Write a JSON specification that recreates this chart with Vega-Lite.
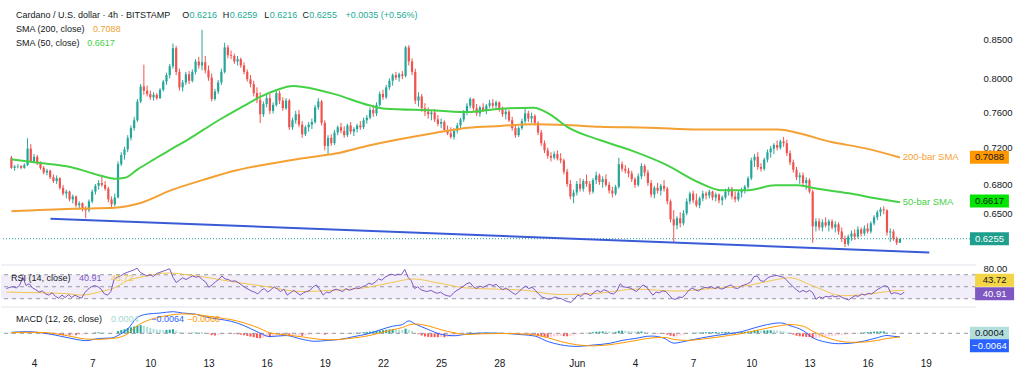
{
"$schema":"https://vega.github.io/schema/vega-lite/v6.json",
"padding":0,
"background":"white",
"spacing":1,
"config":{"view":{"stroke":null},"font":"Liberation Sans","axis":{"grid":false,"domain":false,"ticks":false,"labelFont":"Liberation Sans","labelFontSize":9.5,"labelColor":"#131722"}},
"resolve":{"scale":{"x":"independent","y":"independent"}},
"datasets":{
"k":[
{"i":0,"o":0.7085,"h":0.7105,"l":0.6965,"c":0.6975,"m":0.0005,"r":47},
{"i":1,"o":0.6975,"h":0.7005,"l":0.6945,"c":0.6990,"m":0.0004,"r":49},
{"i":2,"o":0.6990,"h":0.7015,"l":0.6970,"c":0.6995,"m":0.0003,"r":50},
{"i":3,"o":0.6995,"h":0.7005,"l":0.6960,"c":0.6975,"m":0.0002,"r":48},
{"i":4,"o":0.6975,"h":0.7025,"l":0.6965,"c":0.7005,"m":0.0002,"r":52},
{"i":5,"o":0.7005,"h":0.7300,"l":0.6995,"c":0.7185,"m":0.0012,"r":66},
{"i":6,"o":0.7185,"h":0.7235,"l":0.7035,"c":0.7045,"m":0.0008,"r":52},
{"i":7,"o":0.7045,"h":0.7125,"l":0.7025,"c":0.7095,"m":0.0005,"r":55},
{"i":8,"o":0.7095,"h":0.7115,"l":0.7005,"c":0.7025,"m":0.0002,"r":48},
{"i":9,"o":0.7025,"h":0.7045,"l":0.6955,"c":0.6975,"m":-0.0005,"r":45},
{"i":10,"o":0.6975,"h":0.6995,"l":0.6905,"c":0.6925,"m":-0.0012,"r":41},
{"i":11,"o":0.6925,"h":0.6965,"l":0.6895,"c":0.6945,"m":-0.0015,"r":43},
{"i":12,"o":0.6945,"h":0.6955,"l":0.6855,"c":0.6875,"m":-0.0020,"r":38},
{"i":13,"o":0.6875,"h":0.6905,"l":0.6815,"c":0.6835,"m":-0.0025,"r":36},
{"i":14,"o":0.6835,"h":0.6895,"l":0.6805,"c":0.6865,"m":-0.0024,"r":40},
{"i":15,"o":0.6865,"h":0.6875,"l":0.6745,"c":0.6765,"m":-0.0030,"r":34},
{"i":16,"o":0.6765,"h":0.6795,"l":0.6685,"c":0.6705,"m":-0.0036,"r":31},
{"i":17,"o":0.6705,"h":0.6745,"l":0.6655,"c":0.6725,"m":-0.0034,"r":36},
{"i":18,"o":0.6725,"h":0.6735,"l":0.6625,"c":0.6645,"m":-0.0036,"r":32},
{"i":19,"o":0.6645,"h":0.6695,"l":0.6605,"c":0.6675,"m":-0.0030,"r":37},
{"i":20,"o":0.6675,"h":0.6685,"l":0.6565,"c":0.6585,"m":-0.0034,"r":32},
{"i":21,"o":0.6585,"h":0.6625,"l":0.6545,"c":0.6605,"m":-0.0028,"r":36},
{"i":22,"o":0.6605,"h":0.6615,"l":0.6525,"c":0.6555,"m":-0.0025,"r":33},
{"i":23,"o":0.6555,"h":0.6575,"l":0.6455,"c":0.6535,"m":-0.0020,"r":31},
{"i":24,"o":0.6535,"h":0.6645,"l":0.6515,"c":0.6625,"m":-0.0008,"r":40},
{"i":25,"o":0.6625,"h":0.6745,"l":0.6605,"c":0.6725,"m":0.0005,"r":46},
{"i":26,"o":0.6725,"h":0.6805,"l":0.6695,"c":0.6785,"m":0.0015,"r":50},
{"i":27,"o":0.6785,"h":0.6845,"l":0.6745,"c":0.6815,"m":0.0020,"r":52},
{"i":28,"o":0.6815,"h":0.6885,"l":0.6775,"c":0.6795,"m":0.0016,"r":50},
{"i":29,"o":0.6795,"h":0.6835,"l":0.6735,"c":0.6755,"m":0.0012,"r":46},
{"i":30,"o":0.6755,"h":0.6775,"l":0.6615,"c":0.6645,"m":0.0002,"r":38},
{"i":31,"o":0.6645,"h":0.6675,"l":0.6555,"c":0.6595,"m":-0.0004,"r":36},
{"i":32,"o":0.6595,"h":0.6705,"l":0.6575,"c":0.6665,"m":0.0002,"r":42},
{"i":33,"o":0.6665,"h":0.7045,"l":0.6655,"c":0.7015,"m":0.0040,"r":63},
{"i":34,"o":0.7015,"h":0.7145,"l":0.6995,"c":0.7115,"m":0.0060,"r":66},
{"i":35,"o":0.7115,"h":0.7205,"l":0.7065,"c":0.7175,"m":0.0075,"r":68},
{"i":36,"o":0.7175,"h":0.7335,"l":0.7145,"c":0.7305,"m":0.0095,"r":72},
{"i":37,"o":0.7305,"h":0.7445,"l":0.7275,"c":0.7415,"m":0.0110,"r":74},
{"i":38,"o":0.7415,"h":0.7545,"l":0.7385,"c":0.7505,"m":0.0125,"r":76},
{"i":39,"o":0.7505,"h":0.7755,"l":0.7485,"c":0.7725,"m":0.0140,"r":78},
{"i":40,"o":0.7725,"h":0.7935,"l":0.7705,"c":0.7905,"m":0.0150,"r":81},
{"i":41,"o":0.7905,"h":0.8175,"l":0.7805,"c":0.7855,"m":0.0140,"r":74},
{"i":42,"o":0.7855,"h":0.7915,"l":0.7785,"c":0.7815,"m":0.0120,"r":71},
{"i":43,"o":0.7815,"h":0.7855,"l":0.7745,"c":0.7775,"m":0.0100,"r":68},
{"i":44,"o":0.7775,"h":0.7835,"l":0.7735,"c":0.7805,"m":0.0085,"r":70},
{"i":45,"o":0.7805,"h":0.7825,"l":0.7745,"c":0.7765,"m":0.0070,"r":67},
{"i":46,"o":0.7765,"h":0.7885,"l":0.7755,"c":0.7865,"m":0.0065,"r":72},
{"i":47,"o":0.7865,"h":0.7985,"l":0.7845,"c":0.7965,"m":0.0060,"r":74},
{"i":48,"o":0.7965,"h":0.8075,"l":0.7925,"c":0.8045,"m":0.0062,"r":76},
{"i":49,"o":0.8045,"h":0.8185,"l":0.8005,"c":0.8155,"m":0.0066,"r":78},
{"i":50,"o":0.8155,"h":0.8445,"l":0.8125,"c":0.8385,"m":0.0075,"r":80},
{"i":51,"o":0.8385,"h":0.8415,"l":0.8045,"c":0.8085,"m":0.0050,"r":66},
{"i":52,"o":0.8085,"h":0.8125,"l":0.7855,"c":0.7895,"m":0.0025,"r":57},
{"i":53,"o":0.7895,"h":0.7985,"l":0.7845,"c":0.7955,"m":0.0015,"r":61},
{"i":54,"o":0.7955,"h":0.8085,"l":0.7925,"c":0.8055,"m":0.0012,"r":65},
{"i":55,"o":0.8055,"h":0.8095,"l":0.7935,"c":0.7975,"m":0.0008,"r":62},
{"i":56,"o":0.7975,"h":0.8115,"l":0.7955,"c":0.8085,"m":0.0010,"r":65},
{"i":57,"o":0.8085,"h":0.8245,"l":0.8055,"c":0.8215,"m":0.0015,"r":68},
{"i":58,"o":0.8215,"h":0.8275,"l":0.8125,"c":0.8165,"m":0.0012,"r":66},
{"i":59,"o":0.8165,"h":0.8625,"l":0.8105,"c":0.8205,"m":0.0012,"r":67},
{"i":60,"o":0.8205,"h":0.8285,"l":0.8065,"c":0.8105,"m":0.0002,"r":62},
{"i":61,"o":0.8105,"h":0.8165,"l":0.7975,"c":0.8015,"m":-0.0012,"r":58},
{"i":62,"o":0.8015,"h":0.8065,"l":0.7725,"c":0.7755,"m":-0.0035,"r":49},
{"i":63,"o":0.7755,"h":0.7875,"l":0.7735,"c":0.7845,"m":-0.0040,"r":53},
{"i":64,"o":0.7845,"h":0.7985,"l":0.7815,"c":0.7955,"m":-0.0032,"r":58},
{"i":65,"o":0.7955,"h":0.8125,"l":0.7925,"c":0.8085,"m":-0.0020,"r":62},
{"i":66,"o":0.8085,"h":0.8455,"l":0.8065,"c":0.8395,"m":0.0005,"r":68},
{"i":67,"o":0.8395,"h":0.8425,"l":0.8255,"c":0.8295,"m":-0.0002,"r":63},
{"i":68,"o":0.8295,"h":0.8355,"l":0.8245,"c":0.8285,"m":-0.0008,"r":62},
{"i":69,"o":0.8285,"h":0.8315,"l":0.8185,"c":0.8215,"m":-0.0015,"r":59},
{"i":70,"o":0.8215,"h":0.8285,"l":0.8165,"c":0.8245,"m":-0.0018,"r":60},
{"i":71,"o":0.8245,"h":0.8265,"l":0.8135,"c":0.8165,"m":-0.0025,"r":57},
{"i":72,"o":0.8165,"h":0.8205,"l":0.8055,"c":0.8085,"m":-0.0035,"r":53},
{"i":73,"o":0.8085,"h":0.8115,"l":0.7965,"c":0.7995,"m":-0.0048,"r":49},
{"i":74,"o":0.7995,"h":0.8045,"l":0.7895,"c":0.7935,"m":-0.0060,"r":46},
{"i":75,"o":0.7935,"h":0.7975,"l":0.7785,"c":0.7825,"m":-0.0072,"r":43},
{"i":76,"o":0.7825,"h":0.7895,"l":0.7705,"c":0.7745,"m":-0.0085,"r":41},
{"i":77,"o":0.7745,"h":0.7835,"l":0.7475,"c":0.7575,"m":-0.0090,"r":38},
{"i":78,"o":0.7575,"h":0.7725,"l":0.7545,"c":0.7695,"m":-0.0080,"r":44},
{"i":79,"o":0.7695,"h":0.7805,"l":0.7655,"c":0.7765,"m":-0.0070,"r":47},
{"i":80,"o":0.7765,"h":0.7815,"l":0.7575,"c":0.7615,"m":-0.0072,"r":41},
{"i":81,"o":0.7615,"h":0.7715,"l":0.7585,"c":0.7685,"m":-0.0060,"r":45},
{"i":82,"o":0.7685,"h":0.7865,"l":0.7665,"c":0.7825,"m":-0.0045,"r":50},
{"i":83,"o":0.7825,"h":0.7855,"l":0.7695,"c":0.7735,"m":-0.0040,"r":46},
{"i":84,"o":0.7735,"h":0.7775,"l":0.7615,"c":0.7645,"m":-0.0042,"r":42},
{"i":85,"o":0.7645,"h":0.7765,"l":0.7625,"c":0.7735,"m":-0.0036,"r":46},
{"i":86,"o":0.7735,"h":0.7755,"l":0.7395,"c":0.7425,"m":-0.0050,"r":36},
{"i":87,"o":0.7425,"h":0.7535,"l":0.7395,"c":0.7505,"m":-0.0048,"r":40},
{"i":88,"o":0.7505,"h":0.7615,"l":0.7465,"c":0.7575,"m":-0.0040,"r":44},
{"i":89,"o":0.7575,"h":0.7625,"l":0.7425,"c":0.7455,"m":-0.0040,"r":40},
{"i":90,"o":0.7455,"h":0.7495,"l":0.7305,"c":0.7345,"m":-0.0045,"r":36},
{"i":91,"o":0.7345,"h":0.7445,"l":0.7325,"c":0.7425,"m":-0.0038,"r":40},
{"i":92,"o":0.7425,"h":0.7485,"l":0.7375,"c":0.7455,"m":-0.0030,"r":42},
{"i":93,"o":0.7455,"h":0.7525,"l":0.7405,"c":0.7485,"m":-0.0022,"r":44},
{"i":94,"o":0.7485,"h":0.7685,"l":0.7465,"c":0.7655,"m":-0.0008,"r":50},
{"i":95,"o":0.7655,"h":0.7765,"l":0.7625,"c":0.7725,"m":0.0005,"r":53},
{"i":96,"o":0.7725,"h":0.7745,"l":0.7445,"c":0.7475,"m":-0.0005,"r":45},
{"i":97,"o":0.7475,"h":0.7505,"l":0.7165,"c":0.7215,"m":-0.0025,"r":36},
{"i":98,"o":0.7215,"h":0.7335,"l":0.7125,"c":0.7305,"m":-0.0020,"r":41},
{"i":99,"o":0.7305,"h":0.7345,"l":0.7215,"c":0.7245,"m":-0.0018,"r":40},
{"i":100,"o":0.7245,"h":0.7395,"l":0.7225,"c":0.7365,"m":-0.0008,"r":44},
{"i":101,"o":0.7365,"h":0.7445,"l":0.7335,"c":0.7425,"m":-0.0002,"r":46},
{"i":102,"o":0.7425,"h":0.7475,"l":0.7355,"c":0.7385,"m":0.0000,"r":44},
{"i":103,"o":0.7385,"h":0.7435,"l":0.7305,"c":0.7335,"m":-0.0004,"r":42},
{"i":104,"o":0.7335,"h":0.7465,"l":0.7315,"c":0.7445,"m":0.0004,"r":47},
{"i":105,"o":0.7445,"h":0.7485,"l":0.7345,"c":0.7375,"m":0.0004,"r":44},
{"i":106,"o":0.7375,"h":0.7425,"l":0.7325,"c":0.7405,"m":0.0008,"r":46},
{"i":107,"o":0.7405,"h":0.7465,"l":0.7365,"c":0.7445,"m":0.0012,"r":48},
{"i":108,"o":0.7445,"h":0.7495,"l":0.7395,"c":0.7425,"m":0.0014,"r":47},
{"i":109,"o":0.7425,"h":0.7535,"l":0.7405,"c":0.7505,"m":0.0020,"r":50},
{"i":110,"o":0.7505,"h":0.7565,"l":0.7465,"c":0.7535,"m":0.0025,"r":52},
{"i":111,"o":0.7535,"h":0.7655,"l":0.7515,"c":0.7625,"m":0.0032,"r":56},
{"i":112,"o":0.7625,"h":0.7685,"l":0.7545,"c":0.7585,"m":0.0035,"r":54},
{"i":113,"o":0.7585,"h":0.7715,"l":0.7555,"c":0.7685,"m":0.0042,"r":58},
{"i":114,"o":0.7685,"h":0.7845,"l":0.7665,"c":0.7815,"m":0.0055,"r":63},
{"i":115,"o":0.7815,"h":0.7865,"l":0.7745,"c":0.7775,"m":0.0058,"r":61},
{"i":116,"o":0.7775,"h":0.7925,"l":0.7755,"c":0.7895,"m":0.0065,"r":66},
{"i":117,"o":0.7895,"h":0.8005,"l":0.7865,"c":0.7975,"m":0.0072,"r":69},
{"i":118,"o":0.7975,"h":0.8065,"l":0.7915,"c":0.8045,"m":0.0075,"r":71},
{"i":119,"o":0.8045,"h":0.8085,"l":0.7985,"c":0.8015,"m":0.0070,"r":69},
{"i":120,"o":0.8015,"h":0.8075,"l":0.7965,"c":0.8055,"m":0.0068,"r":71},
{"i":121,"o":0.8055,"h":0.8095,"l":0.7995,"c":0.8035,"m":0.0062,"r":70},
{"i":122,"o":0.8035,"h":0.8415,"l":0.8015,"c":0.8395,"m":0.0085,"r":79},
{"i":123,"o":0.8395,"h":0.8425,"l":0.8165,"c":0.8215,"m":0.0065,"r":66},
{"i":124,"o":0.8215,"h":0.8255,"l":0.8045,"c":0.8085,"m":0.0045,"r":60},
{"i":125,"o":0.8085,"h":0.8125,"l":0.7695,"c":0.7735,"m":0.0005,"r":47},
{"i":126,"o":0.7735,"h":0.7835,"l":0.7665,"c":0.7785,"m":-0.0018,"r":50},
{"i":127,"o":0.7785,"h":0.7815,"l":0.7605,"c":0.7645,"m":-0.0040,"r":45},
{"i":128,"o":0.7645,"h":0.7705,"l":0.7555,"c":0.7605,"m":-0.0058,"r":43},
{"i":129,"o":0.7605,"h":0.7655,"l":0.7525,"c":0.7575,"m":-0.0065,"r":42},
{"i":130,"o":0.7575,"h":0.7625,"l":0.7505,"c":0.7595,"m":-0.0068,"r":44},
{"i":131,"o":0.7595,"h":0.7635,"l":0.7485,"c":0.7515,"m":-0.0070,"r":41},
{"i":132,"o":0.7515,"h":0.7565,"l":0.7435,"c":0.7465,"m":-0.0072,"r":39},
{"i":133,"o":0.7465,"h":0.7525,"l":0.7415,"c":0.7485,"m":-0.0070,"r":41},
{"i":134,"o":0.7485,"h":0.7505,"l":0.7375,"c":0.7395,"m":-0.0072,"r":37},
{"i":135,"o":0.7395,"h":0.7445,"l":0.7335,"c":0.7355,"m":-0.0070,"r":35},
{"i":136,"o":0.7355,"h":0.7425,"l":0.7295,"c":0.7315,"m":-0.0062,"r":34},
{"i":137,"o":0.7315,"h":0.7415,"l":0.7285,"c":0.7385,"m":-0.0045,"r":40},
{"i":138,"o":0.7385,"h":0.7475,"l":0.7355,"c":0.7445,"m":-0.0028,"r":44},
{"i":139,"o":0.7445,"h":0.7535,"l":0.7415,"c":0.7515,"m":-0.0012,"r":47},
{"i":140,"o":0.7515,"h":0.7625,"l":0.7485,"c":0.7595,"m":0.0002,"r":51},
{"i":141,"o":0.7595,"h":0.7705,"l":0.7565,"c":0.7675,"m":0.0012,"r":55},
{"i":142,"o":0.7675,"h":0.7775,"l":0.7645,"c":0.7755,"m":0.0020,"r":57},
{"i":143,"o":0.7755,"h":0.7765,"l":0.7615,"c":0.7645,"m":0.0016,"r":50},
{"i":144,"o":0.7645,"h":0.7695,"l":0.7555,"c":0.7585,"m":0.0012,"r":47},
{"i":145,"o":0.7585,"h":0.7675,"l":0.7545,"c":0.7655,"m":0.0012,"r":51},
{"i":146,"o":0.7655,"h":0.7705,"l":0.7605,"c":0.7625,"m":0.0010,"r":49},
{"i":147,"o":0.7625,"h":0.7695,"l":0.7575,"c":0.7675,"m":0.0012,"r":52},
{"i":148,"o":0.7675,"h":0.7745,"l":0.7645,"c":0.7705,"m":0.0014,"r":54},
{"i":149,"o":0.7705,"h":0.7755,"l":0.7645,"c":0.7675,"m":0.0012,"r":52},
{"i":150,"o":0.7675,"h":0.7735,"l":0.7625,"c":0.7715,"m":0.0012,"r":54},
{"i":151,"o":0.7715,"h":0.7725,"l":0.7605,"c":0.7635,"m":0.0010,"r":49},
{"i":152,"o":0.7635,"h":0.7665,"l":0.7545,"c":0.7575,"m":0.0004,"r":45},
{"i":153,"o":0.7575,"h":0.7645,"l":0.7515,"c":0.7605,"m":0.0002,"r":48},
{"i":154,"o":0.7605,"h":0.7625,"l":0.7485,"c":0.7505,"m":-0.0004,"r":44},
{"i":155,"o":0.7505,"h":0.7545,"l":0.7385,"c":0.7415,"m":-0.0010,"r":40},
{"i":156,"o":0.7415,"h":0.7445,"l":0.7305,"c":0.7335,"m":-0.0018,"r":37},
{"i":157,"o":0.7335,"h":0.7435,"l":0.7315,"c":0.7415,"m":-0.0016,"r":42},
{"i":158,"o":0.7415,"h":0.7525,"l":0.7395,"c":0.7495,"m":-0.0010,"r":47},
{"i":159,"o":0.7495,"h":0.7645,"l":0.7465,"c":0.7585,"m":-0.0008,"r":51},
{"i":160,"o":0.7585,"h":0.7615,"l":0.7485,"c":0.7525,"m":-0.0012,"r":47},
{"i":161,"o":0.7525,"h":0.7595,"l":0.7475,"c":0.7555,"m":-0.0018,"r":49},
{"i":162,"o":0.7555,"h":0.7575,"l":0.7445,"c":0.7475,"m":-0.0025,"r":44},
{"i":163,"o":0.7475,"h":0.7495,"l":0.7335,"c":0.7365,"m":-0.0040,"r":38},
{"i":164,"o":0.7365,"h":0.7395,"l":0.7215,"c":0.7245,"m":-0.0055,"r":33},
{"i":165,"o":0.7245,"h":0.7275,"l":0.7135,"c":0.7165,"m":-0.0065,"r":31},
{"i":166,"o":0.7165,"h":0.7195,"l":0.7075,"c":0.7105,"m":-0.0070,"r":29},
{"i":167,"o":0.7105,"h":0.7145,"l":0.7045,"c":0.7085,"m":-0.0065,"r":30},
{"i":168,"o":0.7085,"h":0.7155,"l":0.7065,"c":0.7125,"m":-0.0058,"r":33},
{"i":169,"o":0.7125,"h":0.7165,"l":0.7055,"c":0.7075,"m":-0.0055,"r":31},
{"i":170,"o":0.7075,"h":0.7135,"l":0.7025,"c":0.7055,"m":-0.0050,"r":30},
{"i":171,"o":0.7055,"h":0.7075,"l":0.6905,"c":0.6935,"m":-0.0052,"r":27},
{"i":172,"o":0.6935,"h":0.6965,"l":0.6775,"c":0.6805,"m":-0.0055,"r":25},
{"i":173,"o":0.6805,"h":0.6845,"l":0.6645,"c":0.6675,"m":-0.0050,"r":24},
{"i":174,"o":0.6675,"h":0.6745,"l":0.6605,"c":0.6715,"m":-0.0038,"r":30},
{"i":175,"o":0.6715,"h":0.6835,"l":0.6685,"c":0.6805,"m":-0.0022,"r":36},
{"i":176,"o":0.6805,"h":0.6865,"l":0.6725,"c":0.6755,"m":-0.0012,"r":34},
{"i":177,"o":0.6755,"h":0.6855,"l":0.6725,"c":0.6835,"m":0.0000,"r":39},
{"i":178,"o":0.6835,"h":0.6905,"l":0.6775,"c":0.6805,"m":0.0008,"r":38},
{"i":179,"o":0.6805,"h":0.6835,"l":0.6695,"c":0.6725,"m":0.0012,"r":35},
{"i":180,"o":0.6725,"h":0.6865,"l":0.6705,"c":0.6845,"m":0.0020,"r":41},
{"i":181,"o":0.6845,"h":0.6935,"l":0.6805,"c":0.6895,"m":0.0030,"r":44},
{"i":182,"o":0.6895,"h":0.6915,"l":0.6795,"c":0.6825,"m":0.0032,"r":41},
{"i":183,"o":0.6825,"h":0.6885,"l":0.6765,"c":0.6855,"m":0.0035,"r":45},
{"i":184,"o":0.6855,"h":0.6905,"l":0.6775,"c":0.6795,"m":0.0034,"r":43},
{"i":185,"o":0.6795,"h":0.6825,"l":0.6705,"c":0.6735,"m":0.0030,"r":39},
{"i":186,"o":0.6735,"h":0.6775,"l":0.6665,"c":0.6705,"m":0.0025,"r":38},
{"i":187,"o":0.6705,"h":0.6795,"l":0.6685,"c":0.6775,"m":0.0025,"r":43},
{"i":188,"o":0.6775,"h":0.7085,"l":0.6755,"c":0.7015,"m":0.0045,"r":55},
{"i":189,"o":0.7015,"h":0.7045,"l":0.6935,"c":0.6965,"m":0.0048,"r":50},
{"i":190,"o":0.6965,"h":0.7005,"l":0.6915,"c":0.6945,"m":0.0045,"r":49},
{"i":191,"o":0.6945,"h":0.6975,"l":0.6875,"c":0.6915,"m":0.0040,"r":48},
{"i":192,"o":0.6915,"h":0.6945,"l":0.6825,"c":0.6855,"m":0.0035,"r":45},
{"i":193,"o":0.6855,"h":0.6875,"l":0.6765,"c":0.6795,"m":0.0030,"r":42},
{"i":194,"o":0.6795,"h":0.6915,"l":0.6775,"c":0.6885,"m":0.0030,"r":48},
{"i":195,"o":0.6885,"h":0.7025,"l":0.6855,"c":0.6995,"m":0.0034,"r":53},
{"i":196,"o":0.6995,"h":0.7015,"l":0.6885,"c":0.6925,"m":0.0030,"r":50},
{"i":197,"o":0.6925,"h":0.6955,"l":0.6785,"c":0.6815,"m":0.0020,"r":43},
{"i":198,"o":0.6815,"h":0.6845,"l":0.6665,"c":0.6695,"m":0.0005,"r":36},
{"i":199,"o":0.6695,"h":0.6785,"l":0.6655,"c":0.6765,"m":-0.0004,"r":41},
{"i":200,"o":0.6765,"h":0.6815,"l":0.6705,"c":0.6735,"m":-0.0008,"r":40},
{"i":201,"o":0.6735,"h":0.6805,"l":0.6685,"c":0.6785,"m":-0.0010,"r":43},
{"i":202,"o":0.6785,"h":0.6845,"l":0.6725,"c":0.6755,"m":-0.0012,"r":42},
{"i":203,"o":0.6755,"h":0.6775,"l":0.6595,"c":0.6625,"m":-0.0025,"r":36},
{"i":204,"o":0.6625,"h":0.6645,"l":0.6415,"c":0.6445,"m":-0.0045,"r":30},
{"i":205,"o":0.6445,"h":0.6535,"l":0.6215,"c":0.6385,"m":-0.0055,"r":29},
{"i":206,"o":0.6385,"h":0.6475,"l":0.6345,"c":0.6455,"m":-0.0050,"r":33},
{"i":207,"o":0.6455,"h":0.6515,"l":0.6365,"c":0.6405,"m":-0.0040,"r":32},
{"i":208,"o":0.6405,"h":0.6535,"l":0.6385,"c":0.6505,"m":-0.0030,"r":37},
{"i":209,"o":0.6505,"h":0.6655,"l":0.6485,"c":0.6625,"m":-0.0015,"r":44},
{"i":210,"o":0.6625,"h":0.6725,"l":0.6595,"c":0.6705,"m":0.0000,"r":48},
{"i":211,"o":0.6705,"h":0.6735,"l":0.6605,"c":0.6635,"m":0.0010,"r":45},
{"i":212,"o":0.6635,"h":0.6705,"l":0.6565,"c":0.6585,"m":0.0012,"r":43},
{"i":213,"o":0.6585,"h":0.6675,"l":0.6555,"c":0.6655,"m":0.0015,"r":47},
{"i":214,"o":0.6655,"h":0.6735,"l":0.6625,"c":0.6705,"m":0.0018,"r":49},
{"i":215,"o":0.6705,"h":0.6725,"l":0.6645,"c":0.6685,"m":0.0020,"r":48},
{"i":216,"o":0.6685,"h":0.6745,"l":0.6655,"c":0.6725,"m":0.0022,"r":50},
{"i":217,"o":0.6725,"h":0.6735,"l":0.6635,"c":0.6665,"m":0.0022,"r":47},
{"i":218,"o":0.6665,"h":0.6715,"l":0.6625,"c":0.6695,"m":0.0024,"r":49},
{"i":219,"o":0.6695,"h":0.6705,"l":0.6605,"c":0.6635,"m":0.0020,"r":46},
{"i":220,"o":0.6635,"h":0.6685,"l":0.6585,"c":0.6665,"m":0.0020,"r":48},
{"i":221,"o":0.6665,"h":0.6755,"l":0.6645,"c":0.6725,"m":0.0024,"r":51},
{"i":222,"o":0.6725,"h":0.6775,"l":0.6685,"c":0.6755,"m":0.0026,"r":53},
{"i":223,"o":0.6755,"h":0.6775,"l":0.6645,"c":0.6675,"m":0.0022,"r":48},
{"i":224,"o":0.6675,"h":0.6725,"l":0.6615,"c":0.6645,"m":0.0020,"r":47},
{"i":225,"o":0.6645,"h":0.6735,"l":0.6625,"c":0.6715,"m":0.0022,"r":51},
{"i":226,"o":0.6715,"h":0.6765,"l":0.6665,"c":0.6745,"m":0.0025,"r":53},
{"i":227,"o":0.6745,"h":0.6795,"l":0.6705,"c":0.6775,"m":0.0028,"r":55},
{"i":228,"o":0.6775,"h":0.6885,"l":0.6755,"c":0.6865,"m":0.0032,"r":58},
{"i":229,"o":0.6865,"h":0.7085,"l":0.6845,"c":0.7055,"m":0.0040,"r":67},
{"i":230,"o":0.7055,"h":0.7125,"l":0.6985,"c":0.7095,"m":0.0055,"r":68},
{"i":231,"o":0.7095,"h":0.7145,"l":0.6955,"c":0.6985,"m":0.0058,"r":60},
{"i":232,"o":0.6985,"h":0.7025,"l":0.6935,"c":0.6965,"m":0.0050,"r":59},
{"i":233,"o":0.6965,"h":0.7085,"l":0.6945,"c":0.7065,"m":0.0052,"r":64},
{"i":234,"o":0.7065,"h":0.7175,"l":0.7035,"c":0.7145,"m":0.0055,"r":67},
{"i":235,"o":0.7145,"h":0.7215,"l":0.7085,"c":0.7185,"m":0.0056,"r":68},
{"i":236,"o":0.7185,"h":0.7245,"l":0.7125,"c":0.7225,"m":0.0054,"r":69},
{"i":237,"o":0.7225,"h":0.7275,"l":0.7165,"c":0.7195,"m":0.0050,"r":67},
{"i":238,"o":0.7195,"h":0.7285,"l":0.7175,"c":0.7265,"m":0.0048,"r":66},
{"i":239,"o":0.7265,"h":0.7315,"l":0.7205,"c":0.7245,"m":0.0040,"r":61},
{"i":240,"o":0.7245,"h":0.7285,"l":0.7105,"c":0.7135,"m":0.0020,"r":55},
{"i":241,"o":0.7135,"h":0.7165,"l":0.7005,"c":0.7035,"m":-0.0005,"r":50},
{"i":242,"o":0.7035,"h":0.7065,"l":0.6925,"c":0.6955,"m":-0.0025,"r":45},
{"i":243,"o":0.6955,"h":0.6985,"l":0.6845,"c":0.6875,"m":-0.0045,"r":41},
{"i":244,"o":0.6875,"h":0.6925,"l":0.6805,"c":0.6895,"m":-0.0055,"r":44},
{"i":245,"o":0.6895,"h":0.6925,"l":0.6785,"c":0.6815,"m":-0.0060,"r":41},
{"i":246,"o":0.6815,"h":0.6875,"l":0.6745,"c":0.6845,"m":-0.0066,"r":44},
{"i":247,"o":0.6845,"h":0.6865,"l":0.6705,"c":0.6725,"m":-0.0070,"r":40},
{"i":248,"o":0.6725,"h":0.6745,"l":0.6215,"c":0.6375,"m":-0.0090,"r":29},
{"i":249,"o":0.6375,"h":0.6455,"l":0.6325,"c":0.6425,"m":-0.0088,"r":33},
{"i":250,"o":0.6425,"h":0.6455,"l":0.6335,"c":0.6365,"m":-0.0082,"r":31},
{"i":251,"o":0.6365,"h":0.6445,"l":0.6325,"c":0.6415,"m":-0.0075,"r":34},
{"i":252,"o":0.6415,"h":0.6465,"l":0.6365,"c":0.6385,"m":-0.0068,"r":33},
{"i":253,"o":0.6385,"h":0.6445,"l":0.6325,"c":0.6425,"m":-0.0058,"r":35},
{"i":254,"o":0.6425,"h":0.6445,"l":0.6345,"c":0.6365,"m":-0.0050,"r":33},
{"i":255,"o":0.6365,"h":0.6425,"l":0.6315,"c":0.6395,"m":-0.0042,"r":35},
{"i":256,"o":0.6395,"h":0.6415,"l":0.6295,"c":0.6325,"m":-0.0036,"r":32},
{"i":257,"o":0.6325,"h":0.6365,"l":0.6225,"c":0.6255,"m":-0.0032,"r":30},
{"i":258,"o":0.6255,"h":0.6285,"l":0.6175,"c":0.6205,"m":-0.0030,"r":28},
{"i":259,"o":0.6205,"h":0.6295,"l":0.6185,"c":0.6275,"m":-0.0022,"r":32},
{"i":260,"o":0.6275,"h":0.6335,"l":0.6235,"c":0.6305,"m":-0.0012,"r":35},
{"i":261,"o":0.6305,"h":0.6345,"l":0.6245,"c":0.6275,"m":-0.0005,"r":34},
{"i":262,"o":0.6275,"h":0.6375,"l":0.6255,"c":0.6345,"m":0.0005,"r":38},
{"i":263,"o":0.6345,"h":0.6365,"l":0.6275,"c":0.6305,"m":0.0012,"r":36},
{"i":264,"o":0.6305,"h":0.6385,"l":0.6285,"c":0.6355,"m":0.0018,"r":39},
{"i":265,"o":0.6355,"h":0.6405,"l":0.6305,"c":0.6325,"m":0.0022,"r":38},
{"i":266,"o":0.6325,"h":0.6425,"l":0.6305,"c":0.6405,"m":0.0026,"r":42},
{"i":267,"o":0.6405,"h":0.6485,"l":0.6385,"c":0.6465,"m":0.0030,"r":46},
{"i":268,"o":0.6465,"h":0.6535,"l":0.6435,"c":0.6515,"m":0.0033,"r":49},
{"i":269,"o":0.6515,"h":0.6565,"l":0.6475,"c":0.6545,"m":0.0035,"r":52},
{"i":270,"o":0.6545,"h":0.6575,"l":0.6495,"c":0.6535,"m":0.0036,"r":50},
{"i":271,"o":0.6535,"h":0.6545,"l":0.6285,"c":0.6315,"m":0.0018,"r":38},
{"i":272,"o":0.6315,"h":0.6355,"l":0.6225,"c":0.6325,"m":0.0010,"r":40},
{"i":273,"o":0.6325,"h":0.6345,"l":0.6235,"c":0.6255,"m":0.0005,"r":39},
{"i":274,"o":0.6255,"h":0.6275,"l":0.6195,"c":0.6216,"m":0.0002,"r":37},
{"i":275,"o":0.6216,"h":0.6259,"l":0.6216,"c":0.6255,"m":0.0004,"r":40.91}
],
"s50":[{"i":0,"v":0.7067},{"i":8.4,"v":0.703},{"i":18.9,"v":0.698},{"i":26.8,"v":0.690},{"i":32,"v":0.686},{"i":35.1,"v":0.687},{"i":39.1,"v":0.696},{"i":44.3,"v":0.707},{"i":49.5,"v":0.718},{"i":54.4,"v":0.728},{"i":59.6,"v":0.740},{"i":65.7,"v":0.754},{"i":71.8,"v":0.767},{"i":77,"v":0.778},{"i":81.9,"v":0.786},{"i":87.2,"v":0.791},{"i":90.2,"v":0.790},{"i":100.3,"v":0.781},{"i":110.7,"v":0.768},{"i":115.7,"v":0.764},{"i":131,"v":0.762},{"i":141.4,"v":0.760},{"i":151.5,"v":0.764},{"i":161.6,"v":0.765},{"i":166.8,"v":0.757},{"i":172,"v":0.743},{"i":182.1,"v":0.728},{"i":192.2,"v":0.716},{"i":202.6,"v":0.701},{"i":212.8,"v":0.682},{"i":219.8,"v":0.674},{"i":228.1,"v":0.674},{"i":236.3,"v":0.679},{"i":243.4,"v":0.679},{"i":248.6,"v":0.676},{"i":258.7,"v":0.671},{"i":268.8,"v":0.665},{"i":275,"v":0.6617}],
"s200":[{"i":0,"v":0.6525},{"i":18.9,"v":0.655},{"i":32,"v":0.656},{"i":39.1,"v":0.660},{"i":49.5,"v":0.674},{"i":59.6,"v":0.685},{"i":69.7,"v":0.695},{"i":80.1,"v":0.702},{"i":90.2,"v":0.708},{"i":100.3,"v":0.713},{"i":110.7,"v":0.722},{"i":131,"v":0.736},{"i":141.4,"v":0.742},{"i":151.5,"v":0.744},{"i":161.6,"v":0.746},{"i":172,"v":0.745},{"i":182.1,"v":0.743},{"i":197.4,"v":0.742},{"i":212.8,"v":0.740},{"i":228.1,"v":0.740},{"i":237.3,"v":0.740},{"i":243.4,"v":0.736},{"i":253.5,"v":0.726},{"i":264,"v":0.719},{"i":275,"v":0.7088}],
"trend":[{"i":12.1,"v":0.645},{"i":284.1,"v":0.6125}],
"rm":[{"i":0,"v":41},{"i":10,"v":40},{"i":18.9,"v":38.3},{"i":22.8,"v":36},{"i":29,"v":42},{"i":33,"v":48},{"i":37,"v":60},{"i":43,"v":68},{"i":49.5,"v":73},{"i":55.6,"v":70},{"i":62,"v":65},{"i":69.7,"v":58},{"i":80,"v":50},{"i":90,"v":42},{"i":100,"v":44},{"i":110.7,"v":49},{"i":118,"v":57},{"i":124.8,"v":63},{"i":131.6,"v":57},{"i":140.8,"v":48},{"i":150,"v":46},{"i":158.2,"v":44.4},{"i":169.6,"v":37},{"i":181.2,"v":39},{"i":192.8,"v":46},{"i":205.4,"v":42.8},{"i":215.8,"v":47},{"i":227.5,"v":52.4},{"i":235,"v":61},{"i":240,"v":65},{"i":246.8,"v":52},{"i":256.3,"v":35},{"i":265.4,"v":38.5},{"i":271.3,"v":43},{"i":275,"v":43.72}],
"md":[{"i":0,"a":0.0018,"s":0.0014},{"i":5,"a":0.0030,"s":0.0018},{"i":10,"a":0.0005,"s":0.0015},{"i":15,"a":-0.0050,"s":-0.0020},{"i":20,"a":-0.0110,"s":-0.0075},{"i":23,"a":-0.0135,"s":-0.0105},{"i":27,"a":-0.0095,"s":-0.0110},{"i":31,"a":-0.0085,"s":-0.0095},{"i":33,"a":-0.0040,"s":-0.0080},{"i":36,"a":0.0080,"s":-0.0010},{"i":39,"a":0.0290,"s":0.0140},{"i":42,"a":0.0350,"s":0.0230},{"i":46,"a":0.0370,"s":0.0300},{"i":50,"a":0.0395,"s":0.0340},{"i":53,"a":0.0370,"s":0.0355},{"i":57,"a":0.0350,"s":0.0345},{"i":60,"a":0.0300,"s":0.0320},{"i":64,"a":0.0260,"s":0.0285},{"i":68,"a":0.0220,"s":0.0250},{"i":72,"a":0.0140,"s":0.0190},{"i":76,"a":0.0030,"s":0.0110},{"i":80,"a":-0.0060,"s":0.0010},{"i":85,"a":-0.0040,"s":-0.0030},{"i":90,"a":-0.0110,"s":-0.0065},{"i":94,"a":-0.0146,"s":-0.0100},{"i":98,"a":-0.0130,"s":-0.0118},{"i":102,"a":-0.0110,"s":-0.0110},{"i":106,"a":-0.0060,"s":-0.0085},{"i":110,"a":-0.0015,"s":-0.0050},{"i":114,"a":0.0060,"s":0.0005},{"i":118,"a":0.0130,"s":0.0065},{"i":121,"a":0.0160,"s":0.0105},{"i":123,"a":0.0227,"s":0.0150},{"i":125,"a":0.0170,"s":0.0170},{"i":129,"a":0.0070,"s":0.0135},{"i":133,"a":-0.0020,"s":0.0065},{"i":137,"a":-0.0045,"s":0.0010},{"i":141,"a":-0.0015,"s":-0.0020},{"i":146,"a":0.0005,"s":-0.0008},{"i":152,"a":0.0000,"s":-0.0003},{"i":158,"a":-0.0025,"s":-0.0012},{"i":162,"a":-0.0050,"s":-0.0030},{"i":166,"a":-0.0150,"s":-0.0080},{"i":170,"a":-0.0210,"s":-0.0150},{"i":175,"a":-0.0240,"s":-0.0210},{"i":180,"a":-0.0215,"s":-0.0230},{"i":185,"a":-0.0185,"s":-0.0210},{"i":189,"a":-0.0130,"s":-0.0175},{"i":193,"a":-0.0095,"s":-0.0135},{"i":198,"a":-0.0050,"s":-0.0085},{"i":202,"a":-0.0090,"s":-0.0075},{"i":205,"a":-0.0180,"s":-0.0110},{"i":209,"a":-0.0140,"s":-0.0130},{"i":214,"a":-0.0080,"s":-0.0105},{"i":218,"a":-0.0040,"s":-0.0075},{"i":222,"a":-0.0010,"s":-0.0040},{"i":226,"a":0.0030,"s":-0.0005},{"i":230,"a":0.0100,"s":0.0045},{"i":234,"a":0.0160,"s":0.0095},{"i":238,"a":0.0190,"s":0.0140},{"i":241,"a":0.0140,"s":0.0160},{"i":245,"a":0.0050,"s":0.0130},{"i":248,"a":-0.0080,"s":0.0040},{"i":252,"a":-0.0160,"s":-0.0070},{"i":256,"a":-0.0190,"s":-0.0140},{"i":260,"a":-0.0180,"s":-0.0165},{"i":264,"a":-0.0140,"s":-0.0160},{"i":268,"a":-0.0080,"s":-0.0130},{"i":271,"a":-0.0040,"s":-0.0095},{"i":273,"a":-0.0055,"s":-0.0080},{"i":275,"a":-0.0064,"s":-0.0068}]
},
"vconcat":[
{
"width":975,"height":262,
"layer":[
{"data":{"name":"k"},"mark":{"type":"rule","strokeWidth":1},"encoding":{
"x":{"field":"i","type":"quantitative","scale":{"domain":[-1.67,297],"nice":false,"zero":false},"axis":null},
"y":{"field":"l","type":"quantitative","scale":{"type":"log","domain":[0.6035,0.903],"nice":false},"axis":{"orient":"right","values":[0.65,0.68,0.72,0.76,0.8,0.85],"format":".4f","labelPadding":7,"title":null}},
"y2":{"field":"h"},
"color":{"condition":{"test":"datum.c >= datum.o","value":"#26a69a"},"value":"#ef5350"}}},
{"data":{"name":"k"},"mark":{"type":"bar","width":2.2},"encoding":{
"x":{"field":"i","type":"quantitative","axis":null},
"y":{"field":"o","type":"quantitative"},
"y2":{"field":"c"},
"color":{"condition":{"test":"datum.c >= datum.o","value":"#26a69a"},"value":"#ef5350"}}},
{"data":{"values":[{}]},"mark":{"type":"rule","color":"#26a69a","strokeDash":[1,2],"strokeWidth":1},"encoding":{"y":{"datum":0.6255,"type":"quantitative"}}},
{"data":{"name":"s200"},"mark":{"type":"line","color":"#f5a033","strokeWidth":2,"interpolate":"monotone"},"encoding":{"x":{"field":"i","type":"quantitative","axis":null},"y":{"field":"v","type":"quantitative"}}},
{"data":{"name":"s50"},"mark":{"type":"line","color":"#45d145","strokeWidth":2,"interpolate":"monotone"},"encoding":{"x":{"field":"i","type":"quantitative","axis":null},"y":{"field":"v","type":"quantitative"}}},
{"data":{"name":"trend"},"mark":{"type":"line","color":"#3a5bd6","strokeWidth":2},"encoding":{"x":{"field":"i","type":"quantitative","axis":null},"y":{"field":"v","type":"quantitative"}}},
{"data":{"values":[{}]},"mark":{"type":"text","text":"200-bar SMA","color":"#f5a033","fontSize":9.5,"align":"left","baseline":"middle"},"encoding":{"x":{"datum":275.85,"type":"quantitative","axis":null},"y":{"datum":0.7088,"type":"quantitative"}}},
{"data":{"values":[{}]},"mark":{"type":"text","text":"50-bar SMA","color":"#45d145","fontSize":9.5,"align":"left","baseline":"middle"},"encoding":{"x":{"datum":275.85,"type":"quantitative","axis":null},"y":{"datum":0.6617,"type":"quantitative"}}},
{"data":{"values":[{}]},"mark":{"type":"text","text":"Cardano / U.S. dollar · 4h · BITSTAMP","color":"#131722","fontSize":9,"align":"left","baseline":"middle"},"encoding":{"x":{"datum":1.39,"type":"quantitative","axis":null},"y":{"datum":0.8824,"type":"quantitative"}}},
{"data":{"values":[{}]},"mark":{"type":"text","text":"O","color":"#131722","fontSize":9,"align":"left","baseline":"middle"},"encoding":{"x":{"datum":52.86,"type":"quantitative","axis":null},"y":{"datum":0.8824,"type":"quantitative"}}},
{"data":{"values":[{}]},"mark":{"type":"text","text":"0.6216","color":"#22ab94","fontSize":9,"align":"left","baseline":"middle"},"encoding":{"x":{"datum":55.15,"type":"quantitative","axis":null},"y":{"datum":0.8824,"type":"quantitative"}}},
{"data":{"values":[{}]},"mark":{"type":"text","text":"H","color":"#131722","fontSize":9,"align":"left","baseline":"middle"},"encoding":{"x":{"datum":65.42,"type":"quantitative","axis":null},"y":{"datum":0.8824,"type":"quantitative"}}},
{"data":{"values":[{}]},"mark":{"type":"text","text":"0.6259","color":"#22ab94","fontSize":9,"align":"left","baseline":"middle"},"encoding":{"x":{"datum":67.56,"type":"quantitative","axis":null},"y":{"datum":0.8824,"type":"quantitative"}}},
{"data":{"values":[{}]},"mark":{"type":"text","text":"L","color":"#131722","fontSize":9,"align":"left","baseline":"middle"},"encoding":{"x":{"datum":78.28,"type":"quantitative","axis":null},"y":{"datum":0.8824,"type":"quantitative"}}},
{"data":{"values":[{}]},"mark":{"type":"text","text":"0.6216","color":"#22ab94","fontSize":9,"align":"left","baseline":"middle"},"encoding":{"x":{"datum":79.97,"type":"quantitative","axis":null},"y":{"datum":0.8824,"type":"quantitative"}}},
{"data":{"values":[{}]},"mark":{"type":"text","text":"C","color":"#131722","fontSize":9,"align":"left","baseline":"middle"},"encoding":{"x":{"datum":90.07,"type":"quantitative","axis":null},"y":{"datum":0.8824,"type":"quantitative"}}},
{"data":{"values":[{}]},"mark":{"type":"text","text":"0.6255","color":"#22ab94","fontSize":9,"align":"left","baseline":"middle"},"encoding":{"x":{"datum":92.22,"type":"quantitative","axis":null},"y":{"datum":0.8824,"type":"quantitative"}}},
{"data":{"values":[{}]},"mark":{"type":"text","text":"+0.0035 (+0.56%)","color":"#22ab94","fontSize":9,"align":"left","baseline":"middle"},"encoding":{"x":{"datum":103.4,"type":"quantitative","axis":null},"y":{"datum":0.8824,"type":"quantitative"}}},
{"data":{"values":[{}]},"mark":{"type":"text","text":"SMA (200, close)","color":"#131722","fontSize":9,"align":"left","baseline":"middle"},"encoding":{"x":{"datum":1.39,"type":"quantitative","axis":null},"y":{"datum":0.8636,"type":"quantitative"}}},
{"data":{"values":[{}]},"mark":{"type":"text","text":"0.7088","color":"#f5a033","fontSize":9,"align":"left","baseline":"middle"},"encoding":{"x":{"datum":25.29,"type":"quantitative","axis":null},"y":{"datum":0.8636,"type":"quantitative"}}},
{"data":{"values":[{}]},"mark":{"type":"text","text":"SMA (50, close)","color":"#131722","fontSize":9,"align":"left","baseline":"middle"},"encoding":{"x":{"datum":1.39,"type":"quantitative","axis":null},"y":{"datum":0.8452,"type":"quantitative"}}},
{"data":{"values":[{}]},"mark":{"type":"text","text":"0.6617","color":"#45d145","fontSize":9,"align":"left","baseline":"middle"},"encoding":{"x":{"datum":23.45,"type":"quantitative","axis":null},"y":{"datum":0.8452,"type":"quantitative"}}},
{"data":{"values":[{}]},"mark":{"type":"tick","orient":"horizontal","size":39,"thickness":13,"color":"#ff9800","opacity":1},"encoding":{"x":{"datum":302.7,"type":"quantitative","axis":null},"y":{"datum":0.709,"type":"quantitative"}}},
{"data":{"values":[{}]},"mark":{"type":"text","text":"0.7088","color":"#131722","fontSize":9.5,"align":"center","baseline":"middle"},"encoding":{"x":{"datum":302.7,"type":"quantitative","axis":null},"y":{"datum":0.709,"type":"quantitative"}}},
{"data":{"values":[{}]},"mark":{"type":"tick","orient":"horizontal","size":39,"thickness":13,"color":"#00e600","opacity":1},"encoding":{"x":{"datum":302.7,"type":"quantitative","axis":null},"y":{"datum":0.6628,"type":"quantitative"}}},
{"data":{"values":[{}]},"mark":{"type":"text","text":"0.6617","color":"#131722","fontSize":9.5,"align":"center","baseline":"middle"},"encoding":{"x":{"datum":302.7,"type":"quantitative","axis":null},"y":{"datum":0.6628,"type":"quantitative"}}},
{"data":{"values":[{}]},"mark":{"type":"tick","orient":"horizontal","size":39,"thickness":13,"color":"#1e9e8c","opacity":1},"encoding":{"x":{"datum":302.7,"type":"quantitative","axis":null},"y":{"datum":0.6254,"type":"quantitative"}}},
{"data":{"values":[{}]},"mark":{"type":"text","text":"0.6255","color":"#ffffff","fontSize":9.5,"align":"center","baseline":"middle"},"encoding":{"x":{"datum":302.7,"type":"quantitative","axis":null},"y":{"datum":0.6254,"type":"quantitative"}}}
]
},
{
"width":975,"height":39,
"layer":[
{"data":{"values":[{}]},"mark":{"type":"rect","color":"#7e57c2","opacity":0.1},"encoding":{
"x":{"datum":-1.67,"type":"quantitative","scale":{"domain":[-1.67,297],"nice":false,"zero":false},"axis":null},
"x2":{"datum":297},
"y":{"datum":30,"type":"quantitative","scale":{"domain":[21.2,86.3],"nice":false,"zero":false},"axis":{"orient":"right","values":[80],"format":".2f","labelPadding":7,"title":null}},
"y2":{"datum":70}}},
{"data":{"values":[{}]},"mark":{"type":"rule","color":"#e0e3eb","strokeWidth":1},"encoding":{"y":{"datum":86.3,"type":"quantitative"}}},
{"data":{"values":[{"lv":70},{"lv":50},{"lv":30}]},"mark":{"type":"rule","color":"#9598a1","strokeWidth":1,"strokeDash":[4,4]},"encoding":{"y":{"field":"lv","type":"quantitative"}}},
{"data":{"name":"rm"},"mark":{"type":"line","color":"#f3c64e","strokeWidth":1,"interpolate":"monotone"},"encoding":{"x":{"field":"i","type":"quantitative","axis":null},"y":{"field":"v","type":"quantitative"}}},
{"data":{"name":"k"},"mark":{"type":"line","color":"#7e57c2","strokeWidth":1},"encoding":{"x":{"field":"i","type":"quantitative","axis":null},"y":{"field":"r","type":"quantitative"}}},
{"data":{"values":[{}]},"mark":{"type":"text","text":"RSI (14, close)","color":"#131722","fontSize":9,"align":"left","baseline":"middle"},"encoding":{"x":{"datum":1.39,"type":"quantitative","axis":null},"y":{"datum":65,"type":"quantitative"}}},
{"data":{"values":[{}]},"mark":{"type":"text","text":"40.91","color":"#7e57c2","fontSize":9,"align":"left","baseline":"middle"},"encoding":{"x":{"datum":22.22,"type":"quantitative","axis":null},"y":{"datum":65,"type":"quantitative"}}},
{"data":{"values":[{}]},"mark":{"type":"text","text":"43.72","color":"#f3c64e","fontSize":9,"align":"left","baseline":"middle"},"encoding":{"x":{"datum":32,"type":"quantitative","axis":null},"y":{"datum":65,"type":"quantitative"}}},
{"data":{"values":[{}]},"mark":{"type":"tick","orient":"horizontal","size":39,"thickness":13,"color":"#f5d445","opacity":1},"encoding":{"x":{"datum":302.7,"type":"quantitative","axis":null},"y":{"datum":60.7,"type":"quantitative"}}},
{"data":{"values":[{}]},"mark":{"type":"text","text":"43.72","color":"#131722","fontSize":9.5,"align":"center","baseline":"middle"},"encoding":{"x":{"datum":302.7,"type":"quantitative","axis":null},"y":{"datum":60.7,"type":"quantitative"}}},
{"data":{"values":[{}]},"mark":{"type":"tick","orient":"horizontal","size":39,"thickness":13,"color":"#7e57c2","opacity":1},"encoding":{"x":{"datum":302.7,"type":"quantitative","axis":null},"y":{"datum":38.3,"type":"quantitative"}}},
{"data":{"values":[{}]},"mark":{"type":"text","text":"40.91","color":"#ffffff","fontSize":9.5,"align":"center","baseline":"middle"},"encoding":{"x":{"datum":302.7,"type":"quantitative","axis":null},"y":{"datum":38.3,"type":"quantitative"}}}
]
},
{
"width":975,"height":47,
"layer":[
{"data":{"name":"k"},"transform":[{"window":[{"op":"lag","field":"m","as":"pm"}],"sort":[{"field":"i"}]}],"mark":{"type":"bar","width":2},"encoding":{
"x":{"field":"i","type":"quantitative","scale":{"domain":[-1.67,297],"nice":false,"zero":false},"axis":{"orient":"bottom","values":[7,25,43,61,79,97,115,133,151,175,193,211,229,247,265,283],"labelExpr":"datum.value == 175 ? 'Jun' : ((datum.value - 7) / 6 + 4 > 31 ? (datum.value - 7) / 6 + 4 - 31 : (datum.value - 7) / 6 + 4)","labelPadding":4,"labelFontSize":10,"title":null}},
"y":{"field":"m","type":"quantitative","scale":{"domain":[-0.03784,0.04808],"nice":false,"zero":false},"axis":null},
"y2":{"datum":0},
"color":{"condition":[{"test":"datum.m >= 0 && datum.m >= datum.pm","value":"#26a69a"},{"test":"datum.m >= 0","value":"#b2dfdb"},{"test":"datum.m < datum.pm","value":"#ff5252"}],"value":"#ffcdd2"}}},
{"data":{"values":[{}]},"mark":{"type":"rule","color":"#e0e3eb","strokeWidth":1},"encoding":{"y":{"datum":0.04808,"type":"quantitative","axis":null}}},
{"data":{"values":[{}]},"mark":{"type":"rule","color":"#9598a1","strokeWidth":1,"strokeDash":[4,4]},"encoding":{"y":{"datum":0,"type":"quantitative","axis":null}}},
{"data":{"name":"md"},"mark":{"type":"line","color":"#2962ff","strokeWidth":1,"interpolate":"monotone"},"encoding":{"x":{"field":"i","type":"quantitative"},"y":{"field":"a","type":"quantitative","axis":null}}},
{"data":{"name":"md"},"mark":{"type":"line","color":"#ff9800","strokeWidth":1,"interpolate":"monotone"},"encoding":{"x":{"field":"i","type":"quantitative"},"y":{"field":"s","type":"quantitative","axis":null}}},
{"data":{"values":[{}]},"mark":{"type":"text","text":"MACD (12, 26, close)","color":"#131722","fontSize":9,"align":"left","baseline":"middle"},"encoding":{"x":{"datum":1.39,"type":"quantitative"},"y":{"datum":0.0261,"type":"quantitative","axis":null}}},
{"data":{"values":[{}]},"mark":{"type":"text","text":"0.0004","color":"#a5d6d1","fontSize":9,"align":"left","baseline":"middle"},"encoding":{"x":{"datum":30.8,"type":"quantitative"},"y":{"datum":0.0261,"type":"quantitative","axis":null}}},
{"data":{"values":[{}]},"mark":{"type":"text","text":"−0.0064","color":"#2962ff","fontSize":9,"align":"left","baseline":"middle"},"encoding":{"x":{"datum":43.27,"type":"quantitative"},"y":{"datum":0.0261,"type":"quantitative","axis":null}}},
{"data":{"values":[{}]},"mark":{"type":"text","text":"−0.0068","color":"#ff9800","fontSize":9,"align":"left","baseline":"middle"},"encoding":{"x":{"datum":54.4,"type":"quantitative"},"y":{"datum":0.0261,"type":"quantitative","axis":null}}},
{"data":{"values":[{}]},"mark":{"type":"tick","orient":"horizontal","size":39,"thickness":13,"color":"#b2dfdb","opacity":1},"encoding":{"x":{"datum":302.7,"type":"quantitative"},"y":{"datum":0,"type":"quantitative","axis":null}}},
{"data":{"values":[{}]},"mark":{"type":"text","text":"0.0004","color":"#131722","fontSize":9.5,"align":"center","baseline":"middle"},"encoding":{"x":{"datum":302.7,"type":"quantitative"},"y":{"datum":0,"type":"quantitative","axis":null}}},
{"data":{"values":[{}]},"mark":{"type":"tick","orient":"horizontal","size":39,"thickness":13,"color":"#2962ff","opacity":1},"encoding":{"x":{"datum":302.7,"type":"quantitative"},"y":{"datum":-0.0227,"type":"quantitative","axis":null}}},
{"data":{"values":[{}]},"mark":{"type":"text","text":"−0.0064","color":"#ffffff","fontSize":9.5,"align":"center","baseline":"middle"},"encoding":{"x":{"datum":302.7,"type":"quantitative"},"y":{"datum":-0.0227,"type":"quantitative","axis":null}}}
]
}
]
}
